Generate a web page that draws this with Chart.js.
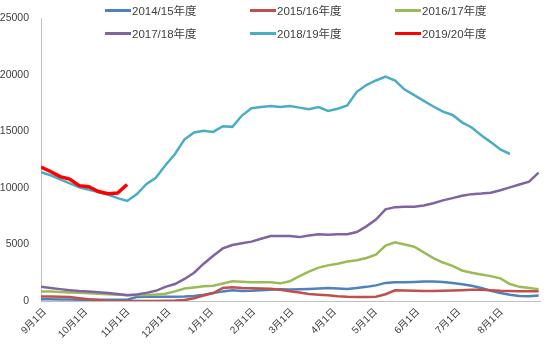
<!DOCTYPE html>
<html>
<head>
<meta charset="utf-8">
<script src="https://cdn.jsdelivr.net/npm/chart.js@4.4.0/dist/chart.umd.min.js"></script>
<style>
body { margin: 0; background: #fff; }
#wrap { position: relative; width: 554px; height: 353px; }
.lg { position: absolute; display: flex; align-items: center; font: 11.5px "Liberation Sans", "Noto Sans CJK SC", sans-serif; color: #404040; white-space: nowrap; }
.lg i { display: inline-block; width: 26px; height: 3px; margin-right: 1px; }
</style>
</head>
<body>
<div id="wrap">
    <canvas id="c" width="554" height="353"></canvas>
    <div id="legend"></div>
</div>
<script>
// days counted from 9月1日, one reading per week
const days = [0,7,14,21,28,35,42,49,56,63,70,77,84,91,98,105,112,119,126,133,140,147,154,161,168,175,182,189,196,203,210,217,224,231,238,245,252,259,266,273,280,287,294,301,308,315,322,329,336,343,350,357,364];

const monthDays = [0,30,61,91,122,153,181,212,242,273,303,334];
const monthLabels = ['9月1日','10月1日','11月1日','12月1日','1月1日','2月1日','3月1日','4月1日','5月1日','6月1日','7月1日','8月1日'];

const seriesNames = ['2014/15年度','2015/16年度','2016/17年度','2017/18年度','2018/19年度','2019/20年度'];
const seriesColors = ['#4F81BD','#C0504D','#9BBB59','#8064A2','#4BACC6','#FF0000'];

const s1415 = [150,150,140,130,120,110,100,100,100,120,350,380,380,380,380,400,450,550,700,850,950,880,900,950,1000,1030,1010,1050,1070,1100,1140,1100,1070,1150,1250,1380,1600,1650,1650,1680,1720,1730,1680,1600,1480,1350,1150,900,700,550,450,430,480];
const s1516 = [400,400,380,350,250,150,80,30,0,0,0,0,10,30,40,80,250,480,700,1150,1220,1150,1120,1100,1080,1000,870,750,620,560,500,420,380,360,350,380,600,950,930,900,880,880,900,930,960,1000,1000,960,900,880,870,870,870];
const s1617 = [850,850,800,760,720,690,650,600,560,520,520,540,580,650,850,1100,1200,1300,1350,1550,1750,1700,1650,1650,1650,1560,1740,2200,2600,2950,3150,3300,3500,3600,3800,4100,4900,5200,5000,4800,4300,3800,3400,3100,2700,2500,2350,2200,2000,1500,1250,1150,1050];
const s1718 = [1250,1150,1050,960,880,830,780,700,620,500,580,720,900,1250,1500,1950,2500,3300,4000,4650,4950,5100,5250,5500,5750,5750,5750,5650,5800,5900,5850,5900,5900,6100,6600,7200,8100,8300,8330,8330,8450,8650,8900,9100,9300,9450,9500,9580,9800,10050,10300,10550,11350];
const s1819 = [11400,11120,10760,10400,10060,9840,9630,9420,9100,8850,9430,10330,10900,12000,13000,14300,14900,15050,14950,15450,15400,16400,17050,17150,17250,17150,17250,17100,16950,17150,16800,17000,17300,18500,19100,19500,19850,19500,18700,18200,17700,17200,16750,16450,15800,15350,14650,14050,13400,13000,null,null,null];
const s1920 = [11850,11450,11000,10780,10200,10100,9680,9480,9550,10300,null,null,null,null,null,null,null,null,null,null,null,null,null,null,null,null,null,null,null,null,null,null,null,null,null,null,null,null,null,null,null,null,null,null,null,null,null,null,null,null,null,null,null];

const yTicks = [0,5000,10000,15000,20000,25000];

const allSeries = [s1415, s1516, s1617, s1718, s1819, s1920];
const FONT = '"Liberation Sans", "Noto Sans CJK SC", sans-serif';

function toPoints(values) {
    const pts = [];
    values.forEach((v, i) => { if (v !== null) pts.push({ x: days[i], y: v }); });
    return pts;
}

const datasets = allSeries.map((vals, i) => ({
    label: seriesNames[i],
    data: toPoints(vals),
    borderColor: seriesColors[i],
    backgroundColor: seriesColors[i],
    borderWidth: i === 5 ? 3.5 : 2.5,
    pointRadius: 0,
    tension: 0,
    order: 6 - i
}));

new Chart(document.getElementById('c'), {
    type: 'line',
    data: { datasets },
    options: {
        responsive: false,
        animation: false,
        layout: { padding: { top: 13, right: 14, left: 0, bottom: 0 } },
        plugins: { legend: { display: false }, tooltip: { enabled: false } },
        scales: {
            x: {
                type: 'linear',
                min: 0,
                max: 365,
                grid: { display: false, drawTicks: false },
                border: { color: '#bfbfbf', width: 1 },
                afterBuildTicks: s => { s.ticks = monthDays.map(v => ({ value: v })); },
                afterFit: s => { s.height = 52; },
                ticks: {
                    autoSkip: false,
                    minRotation: 45,
                    maxRotation: 45,
                    padding: 5,
                    labelOffset: 4,
                    color: '#404040',
                    font: { size: 10, family: FONT },
                    callback: (v, i) => monthLabels[i]
                }
            },
            y: {
                min: 0,
                max: 25000,
                grid: { display: false, drawTicks: false },
                border: { color: '#bfbfbf', width: 1 },
                afterBuildTicks: s => { s.ticks = yTicks.map(v => ({ value: v })); },
                afterFit: s => { s.width = 41; },
                ticks: {
                    padding: 12,
                    color: '#404040',
                    font: { size: 10.5, family: FONT },
                    callback: v => String(v)
                }
            }
        }
    }
});

// legend sits inside the plot area, 3 columns x 2 rows
const legendCols = [105, 250, 395];
const legendRows = [10, 33];
const legendEl = document.getElementById('legend');
seriesNames.forEach((name, i) => {
    const item = document.createElement('div');
    item.className = 'lg';
    item.style.left = legendCols[i % 3] + 'px';
    item.style.top = (legendRows[Math.floor(i / 3)] - 8) + 'px';
    item.style.height = '16px';
    item.innerHTML = `<i style="background:${seriesColors[i]}"></i>${name}`;
    legendEl.appendChild(item);
});
</script>
</body>
</html>
